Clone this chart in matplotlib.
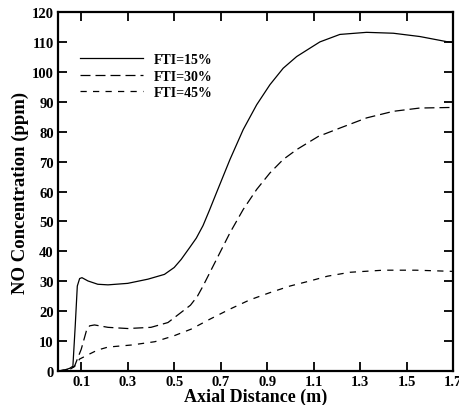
import matplotlib
matplotlib.use("Agg")
import matplotlib.pyplot as plt

plt.rcParams['font.family'] = ['Liberation Serif', 'DejaVu Serif']
plt.rcParams['font.weight'] = 'bold'

# Data
x15 = [0.0, 0.03, 0.05, 0.064, 0.074, 0.083, 0.093, 0.103, 0.129, 0.171, 0.215, 0.30, 0.387,
       0.458, 0.50, 0.53, 0.566, 0.595, 0.624, 0.652, 0.682, 0.74, 0.797, 0.855, 0.912, 0.969,
       1.027, 1.084, 1.127, 1.213, 1.328, 1.443, 1.557, 1.672, 1.70]
y15 = [0.0, 0.4, 0.9, 1.6, 15.0, 28.4, 30.9, 31.2, 30.1, 29.0, 28.8, 29.3, 30.7,
       32.3, 34.6, 37.3, 41.2, 44.4, 48.6, 53.8, 59.6, 70.7, 80.7, 89.0, 95.7, 101.2,
       105.1, 107.9, 110.0, 112.5, 113.2, 112.9, 111.8, 110.1, 109.8]

x30 = [0.0, 0.05, 0.071, 0.10, 0.122, 0.136, 0.157, 0.215, 0.30, 0.40, 0.473, 0.53, 0.57,
       0.60, 0.624, 0.682, 0.74, 0.797, 0.855, 0.912, 0.969, 1.027, 1.12, 1.213, 1.328,
       1.443, 1.557, 1.70]
y30 = [0.0, 0.5, 1.6, 7.3, 13.4, 15.1, 15.4, 14.6, 14.2, 14.6, 16.2, 19.6, 22.0,
       25.0, 28.4, 37.3, 46.2, 54.0, 60.7, 66.2, 70.7, 74.0, 78.4, 81.2, 84.6,
       86.8, 87.9, 88.1]

x45 = [0.0, 0.05, 0.071, 0.093, 0.136, 0.17, 0.215, 0.317, 0.417, 0.50, 0.573, 0.653, 0.74,
       0.826, 0.912, 0.998, 1.084, 1.16, 1.256, 1.40, 1.54, 1.70]
y45 = [0.0, 0.5, 1.5, 4.0, 5.7, 7.0, 8.0, 8.7, 9.8, 11.8, 14.0, 17.3, 20.7,
       23.8, 26.2, 28.4, 30.1, 31.7, 33.0, 33.7, 33.7, 33.3]

labels = ['FTI=15%', 'FTI=30%', 'FTI=45%']
xticks = [0.1, 0.3, 0.5, 0.7, 0.9, 1.1, 1.3, 1.5, 1.7]
yticks = list(range(0, 121, 10))

fig = plt.figure(figsize=(4.59, 4.06), dpi=100)
ax = fig.add_axes([0.1264, 0.0837, 0.8606, 0.8843])

ax.plot(x15, y15, color='black', lw=0.9, ls='-', label=labels[0])
ax.plot(x30, y30, color='black', lw=0.9, ls=(0, (8, 4)), label=labels[1])
ax.plot(x45, y45, color='black', lw=0.9, ls=(0, (5, 5)), label=labels[2])

ax.set_xlim(0, 1.7)
ax.set_ylim(0, 120)
ax.set_xticks(xticks)
ax.set_xticklabels([f'{v:.1f}' for v in xticks])
ax.set_yticks(yticks)
ax.tick_params(direction='in', length=6.5, width=1.3, top=True, right=True,
               labelsize=10.5, pad=3)
for lab in ax.get_xticklabels() + ax.get_yticklabels():
    lab.set_fontweight('bold')
for s in ax.spines.values():
    s.set_linewidth(1.6)

ax.set_xlabel('Axial Distance (m)', fontsize=13, fontweight='bold', labelpad=0)
ax.set_ylabel('NO Concentration (ppm)', fontsize=13.5, fontweight='bold', labelpad=2)

leg = ax.legend(loc='upper left', bbox_to_anchor=(0.025, 0.92), frameon=False,
                prop={'size': 10, 'weight': 'bold'}, handlelength=4.5,
                handletextpad=0.8, labelspacing=0.25)

fig.savefig('out.png', dpi=100)
